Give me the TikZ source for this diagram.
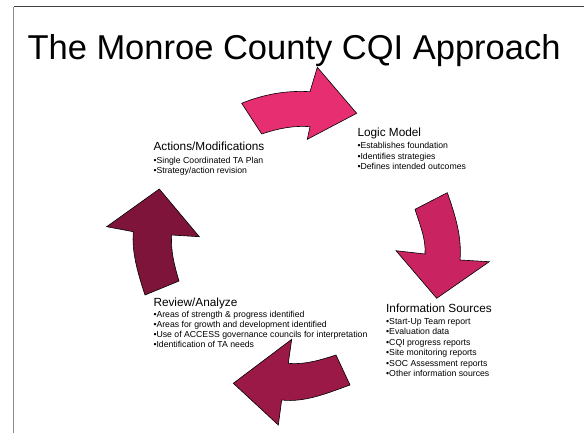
\documentclass[tikz,border=0pt]{standalone}
\usepackage{fontspec}
\setmainfont{Liberation Sans}
\definecolor{arrA}{RGB}{230,46,112}
\definecolor{arrB}{RGB}{201,36,97}
\definecolor{arrC}{RGB}{155,25,71}
\definecolor{arrD}{RGB}{126,20,58}
\begin{document}
\begin{tikzpicture}[x=1pt,y=-1pt,
  arrowshape/.style={draw=black, line width=0.6pt, line join=miter},
  heading/.style={anchor=base west, inner sep=0pt, font=\fontsize{11.8}{14}\selectfont},
  items/.style={anchor=base west, inner sep=0pt, align=left, font=\fontsize{8.7}{#1}\selectfont},
  frameline/.style={line width=0.8pt}
]
\useasboundingbox[fill=white] (0,0) rectangle (584,433);
% frame (top and left edges)
\draw[frameline, black!75] (13.8,6.7) -- (584,6.7);
\draw[frameline, black!45] (13.8,6.7) -- (13.8,433);

% title
\node[anchor=base west, inner sep=0pt, font=\fontsize{34.5}{40}\selectfont] (title) at (27.3,60) {The Monroe County CQI Approach};

% top arrow
\draw[arrowshape, fill=arrA] (241.7,103.3) .. controls (263.2,94.4) and (286.7,90.2) .. (310,91.7)
  -- (317.3,67.3) -- (356.7,113.3) -- (307.3,139.3) -- (310,126.7)
  .. controls (293.7,125.3) and (277.2,128.7) .. (261.7,134) -- cycle;

% right arrow
\draw[arrowshape, fill=arrB] (415,209.3) -- (447.3,192.7)
  .. controls (455.0,214.3) and (462.1,237.2) .. (460,260)
  -- (489.3,261.7) -- (436.7,298.3) -- (396,250.7) -- (425,254)
  .. controls (426.1,238.7) and (419.5,223.9) .. (415,209.3) -- cycle;

% bottom arrow
\draw[arrowshape, fill=arrC] (336,355) -- (350,385)
  .. controls (327.9,392.9) and (305.0,402.7) .. (281.7,400)
  -- (278.3,425) -- (233.3,383.3) -- (291.7,339.3) -- (288.3,363.3)
  .. controls (304.4,364.9) and (320.6,360.0) .. (336,355) -- cycle;

% left arrow
\draw[arrowshape, fill=arrD] (145,295) -- (179,281)
  .. controls (174.5,266.0) and (170.5,250.7) .. (171.7,235)
  -- (199.3,236.7) -- (159.3,189) -- (106.7,226.7) -- (133.3,231.7)
  .. controls (131.6,253.3) and (138.3,274.4) .. (145,295) -- cycle;

% Logic Model (item nodes are anchored at the baseline of their last line)
\node[heading] (logich) at (357.3,137) {Logic Model};
\node[items=10.5] (logici) at (357.3,170) {•Establishes foundation\\•Identifies strategies\\•Defines intended outcomes};

% Actions/Modifications
\node[heading] (acth) at (153.3,151) {Actions/Modifications};
\node[items=10] (acti) at (153.3,174) {•Single Coordinated TA Plan\\•Strategy/action revision};

% Information Sources
\node[heading] (infoh) at (386,312.7) {Information Sources};
\node[items=10.5] (infoi) at (386,376.5) {•Start-Up Team report\\•Evaluation data\\•CQI progress reports\\•Site monitoring reports\\•SOC Assessment reports\\•Other information sources};

% Review/Analyze
\node[heading] (revh) at (153.3,306) {Review/Analyze};
\node[items=10.1] (revi) at (153.3,347.6) {•Areas of strength \& progress identified\\•Areas for growth and development identified\\•Use of ACCESS governance councils for interpretation\\•Identification of TA needs};
\end{tikzpicture}
\end{document}
